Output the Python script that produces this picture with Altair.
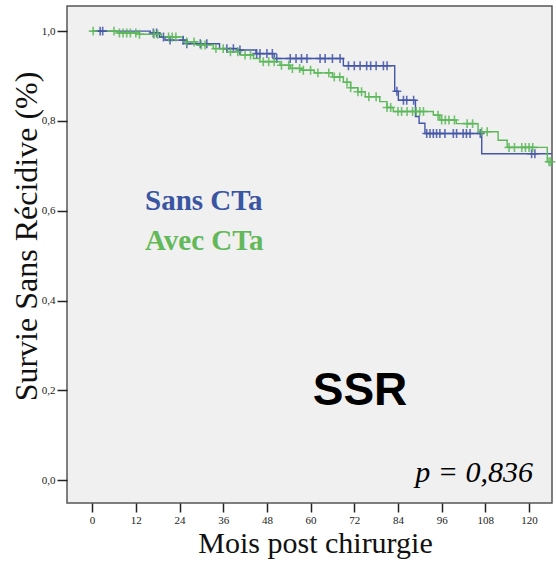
import altair as alt
import numpy as np
import pandas as pd

# ---- data ----
groups = ["Sans CTa", "Avec CTa"]
colors = ["#4456a8", "#5cb85a"]

blue_t = [0, 16, 18.5, 20, 26, 35, 40, 45, 50, 69, 83.1, 84.1, 88.8, 89.8, 91.4, 107]
blue_s = [1.0, 0.996, 0.987, 0.980, 0.972, 0.961, 0.958, 0.950, 0.939, 0.923,
          0.866, 0.846, 0.810, 0.795, 0.772, 0.727]
blue_end = 126.3
blue_cens = [2.2, 2.9, 16.8, 17.7, 19.6, 21.4, 25, 26, 29.7, 31.5, 37, 38.8, 40.6,
             45.2, 46.1, 48, 49.5, 50.7, 54.4, 56, 57.5, 59, 62.6, 64, 66, 68.1,
             70.4, 72, 73.6, 75.4, 76.5, 78, 80, 81, 83.7, 85.5, 86.4, 88.3,
             91.9, 92.8, 93.7, 94.6, 95.5, 96.9, 99.2, 100.1, 101.9, 102.8, 103.8,
             106.6, 120.7, 121.6]

green_t = [0, 7, 13, 19, 25, 28.7, 33.3, 37, 40.6, 44.3, 46.1, 51.6, 54.4, 57.5, 61,
           66, 69, 71, 73, 75, 79, 81, 82.7, 93.7, 95.5, 100, 106, 111.5, 114, 125]
green_s = [1.0, 0.996, 0.993, 0.987, 0.976, 0.969, 0.961, 0.954, 0.947, 0.939, 0.932,
           0.924, 0.917, 0.913, 0.907, 0.898, 0.886, 0.874, 0.865, 0.854, 0.843,
           0.830, 0.821, 0.813, 0.802, 0.794, 0.776, 0.757, 0.741, 0.709]
green_end = 126.3
green_cens = [0.3, 6, 7.5, 8.5, 9.5, 10.5, 12, 13, 17, 18, 21, 22, 23, 26, 28, 30, 31,
              34, 36, 38, 40, 42, 43.5, 47, 48.5, 50, 52, 54, 55, 57, 58, 60, 62,
              65, 66.5, 68, 70, 71, 73, 74, 76, 78, 81, 82, 84, 85, 86.5, 88, 89, 90,
              91, 95, 96, 97, 98, 99.5, 103, 104.5, 107, 108.5, 114.5, 116, 118, 119,
              120, 121, 125.5, 126]

x_ticks = [0, 12, 24, 36, 48, 60, 72, 84, 96, 108, 120]
y_ticks = [0.0, 0.2, 0.4, 0.6, 0.8, 1.0]


def step_rows(name, t, s, end):
    rows = [{"g": name, "t": a, "s": b} for a, b in zip(t, s)]
    rows.append({"g": name, "t": end, "s": s[-1]})
    return rows


def cens_rows(name, t, s, cens):
    ta = np.array(t)
    out = []
    for c in cens:
        i = np.searchsorted(ta, c, side="right") - 1
        out.append({"g": name, "t": c, "s": s[max(i, 0)]})
    return out


lines = pd.DataFrame(step_rows(groups[0], blue_t, blue_s, blue_end)
                     + step_rows(groups[1], green_t, green_s, green_end))
marks = pd.DataFrame(cens_rows(groups[0], blue_t, blue_s, blue_cens)
                     + cens_rows(groups[1], green_t, green_s, green_cens))

serif = "Liberation Serif"

xs = alt.Scale(domain=[-6.9, 126.3], nice=False, zero=False)
ys = alt.Scale(domain=[-0.051, 1.056], nice=False, zero=False)
cs = alt.Scale(domain=groups, range=colors)

x_axis = alt.Axis(values=x_ticks, title="Mois post chirurgie", grid=False, domain=False,
                  labelFont=serif, labelFontSize=11, labelColor="#222",
                  tickSize=9, tickColor="#222", tickWidth=1.5, labelPadding=2,
                  titleFont=serif, titleFontSize=30, titleFontWeight="normal",
                  titleColor="#111", titleX=248, titleY=49, titleBaseline="alphabetic",
                  titleAlign="center")
y_axis = alt.Axis(values=y_ticks, title="Survie Sans Récidive (%)", grid=False, domain=False,
                  labelExpr="replace(format(datum.value, '.1f'), '.', ',')",
                  labelFont=serif, labelFontSize=11, labelColor="#222",
                  tickSize=10, tickColor="#222", tickWidth=1.5, labelPadding=2,
                  titleFont=serif, titleFontSize=32, titleFontWeight="normal",
                  titleColor="#111", titleX=-31, titleY=230, titleBaseline="alphabetic",
                  titleAlign="center", titleAngle=270)

line_layer = alt.Chart(lines).mark_line(interpolate="step-after", strokeWidth=1.4).encode(
    x=alt.X("t:Q", scale=xs, axis=x_axis),
    y=alt.Y("s:Q", scale=ys, axis=y_axis),
    color=alt.Color("g:N", scale=cs, legend=None),
    detail="g:N",
)

cross = "M-1,0L1,0M0,-1L0,1"
mark_layer = alt.Chart(marks).mark_point(shape=cross, filled=False, size=80,
                                         strokeWidth=1.6, opacity=0.85).encode(
    x=alt.X("t:Q", scale=xs),
    y=alt.Y("s:Q", scale=ys),
    color=alt.Color("g:N", scale=cs, legend=None),
)


def txt(s, **kw):
    return alt.Chart(pd.DataFrame({"v": [s]})).mark_text(**kw).encode(text="v:N")


sans = txt("Sans CTa", font=serif, fontSize=29, fontWeight="bold", color="#3a55a2",
           align="left", baseline="alphabetic").encode(x=alt.value(78), y=alt.value(204))
avec = txt("Avec CTa", font=serif, fontSize=29, fontWeight="bold", color="#63b95a",
           align="left", baseline="alphabetic").encode(x=alt.value(78), y=alt.value(244))
ssr = txt("SSR", font="Liberation Sans", fontSize=46, fontWeight="bold", color="#000",
          align="center", baseline="alphabetic").encode(x=alt.value(293), y=alt.value(399))
pval = txt("p = 0,836", font=serif, fontSize=30, fontStyle="italic", color="#000",
           align="right", baseline="alphabetic").encode(x=alt.value(466), y=alt.value(476))

chart = alt.layer(line_layer, mark_layer, sans, avec, ssr, pval).properties(
    width=485, height=497,
    autosize=alt.AutoSizeParams(type="none"),
    padding={"left": 67, "top": 6, "right": 4, "bottom": 59},
    background="white",
).configure_view(fill="#f0f0f0", stroke="#555555", strokeWidth=1.5)

chart.save("out.html", embed_options={"renderer": "svg", "actions": False})
